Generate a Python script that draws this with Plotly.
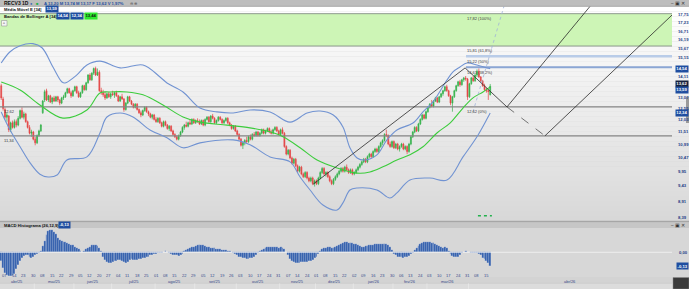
import math
import pandas as pd
import plotly.graph_objects as go

# ---------------- data ----------------
ticker = "RECV3 1D"
quote_text = "A 13,20 M 13,74 M 13,17 F 13,62 V 1,97%"

open_ = [
13.65,13.00,12.50,12.15,12.20,11.60,11.90,11.70,11.95,11.80,
12.10,12.45,12.15,12.30,11.95,11.70,11.45,11.50,11.20,11.05,
11.35,11.55,12.35,12.95,13.40,12.95,13.15,12.85,13.05,12.90,
13.10,12.95,12.80,13.05,13.10,13.30,13.50,13.30,13.15,13.40,
13.60,13.30,13.10,13.30,13.65,13.45,13.80,14.20,13.95,14.30,
14.55,14.20,14.35,13.40,13.30,13.20,13.05,13.25,13.10,13.25,
13.20,13.30,13.15,12.90,13.10,13.00,12.50,12.80,13.10,12.90,
12.75,12.60,12.75,12.50,12.35,12.25,12.45,12.60,12.40,12.30,
12.15,12.25,12.05,11.95,12.10,11.90,11.75,11.95,11.80,11.65,
11.75,11.55,11.40,11.30,11.20,11.35,11.50,11.70,11.80,11.75,
11.90,11.85,12.05,11.90,12.00,11.95,11.85,12.00,11.80,12.05,
12.15,11.95,12.20,12.10,11.90,12.00,12.15,12.05,11.90,12.00,
12.10,11.90,11.80,11.65,11.75,11.55,11.40,11.20,10.95,11.05,
11.15,11.10,11.30,11.20,11.40,11.35,11.50,11.35,11.45,11.60,
11.45,11.55,11.65,11.50,11.45,11.60,11.70,11.55,11.40,11.60,
11.45,10.90,10.60,10.75,10.45,10.25,10.40,10.15,9.95,10.10,
9.85,9.75,9.90,9.70,9.60,9.70,9.50,9.60,9.50,9.70,
9.90,10.05,9.85,9.90,9.75,9.60,9.50,9.65,9.75,9.85,
9.95,10.05,9.95,10.10,10.00,9.90,10.00,9.85,9.90,10.00,
10.10,10.20,10.30,10.40,10.30,10.50,10.60,10.50,10.70,10.80,
10.70,10.90,11.05,11.15,11.40,11.35,11.00,10.90,11.10,10.85,
11.00,10.80,10.90,11.00,10.80,10.90,10.70,11.00,11.30,11.50,
11.70,11.55,11.85,12.05,12.25,12.10,12.40,12.60,12.75,12.65,
12.90,13.05,12.85,13.10,13.25,13.40,13.60,13.40,13.15,12.80,
13.10,13.40,13.65,13.85,13.70,13.95,14.05,14.00,13.10,13.75,
14.05,13.90,14.20,14.40,14.10,13.90,13.65,13.45,13.40,13.20,
]
high = [
13.75,13.10,12.60,12.35,12.25,11.95,12.00,12.05,12.05,12.20,
12.50,12.60,12.40,12.35,12.00,11.80,11.60,11.55,11.30,11.40,
11.60,11.85,12.95,13.45,13.50,13.20,13.20,13.10,13.15,13.15,
13.15,13.00,13.10,13.20,13.35,13.55,13.55,13.40,13.45,13.65,
13.65,13.40,13.35,13.70,13.70,13.85,14.25,14.30,14.35,14.60,
14.65,14.55,14.45,13.55,13.45,13.35,13.30,13.35,13.30,13.40,
13.35,13.40,13.20,13.15,13.25,13.05,12.85,13.15,13.15,12.95,
12.80,12.80,12.80,12.55,12.45,12.50,12.65,12.65,12.45,12.35,
12.30,12.30,12.15,12.15,12.15,11.95,12.00,12.00,11.85,11.80,
11.80,11.60,11.45,11.35,11.40,11.55,11.75,11.85,11.95,11.95,
12.05,12.10,12.10,12.05,12.10,12.05,12.05,12.05,12.10,12.20,
12.20,12.25,12.30,12.15,12.05,12.20,12.20,12.10,12.05,12.15,
12.15,11.95,11.85,11.80,11.80,11.60,11.45,11.25,11.10,11.20,
11.30,11.35,11.40,11.45,11.50,11.55,11.55,11.50,11.65,11.65,
11.60,11.70,11.70,11.60,11.65,11.75,11.75,11.60,11.65,11.70,
11.50,10.95,10.80,10.80,10.50,10.45,10.45,10.20,10.15,10.15,
9.90,9.95,9.95,9.75,9.75,9.75,9.65,9.65,9.75,9.95,
10.10,10.10,9.95,9.95,9.80,9.65,9.70,9.80,9.90,10.00,
10.10,10.10,10.15,10.20,10.05,10.05,10.05,9.95,10.05,10.15,
10.25,10.35,10.45,10.45,10.55,10.65,10.65,10.75,10.85,10.85,
10.95,11.10,11.20,11.45,11.60,11.40,11.10,11.15,11.15,11.05,
11.05,10.95,11.05,11.05,10.95,10.95,11.05,11.35,11.55,11.75,
11.75,11.90,12.10,12.30,12.30,12.45,12.65,12.80,12.95,12.95,
13.10,13.10,13.15,13.30,13.45,13.65,13.70,13.45,13.20,13.15,
13.45,13.70,13.90,13.95,14.00,14.10,14.15,14.05,13.80,14.10,
14.15,14.25,14.50,14.55,14.15,13.95,13.75,13.55,13.45,13.74,
]
low = [
12.95,12.45,12.05,11.95,11.50,11.50,11.65,11.65,11.70,11.75,
12.05,12.10,12.05,11.90,11.65,11.40,11.30,11.15,10.95,11.00,
11.30,11.50,12.30,12.85,12.90,12.85,12.80,12.75,12.85,12.85,
12.85,12.70,12.75,12.95,13.05,13.25,13.25,13.05,13.10,13.35,
13.25,13.05,13.05,13.25,13.40,13.40,13.75,13.90,13.90,14.20,
14.15,14.15,13.35,13.20,13.10,12.95,13.00,13.05,13.00,13.15,
13.05,13.10,12.85,12.85,12.95,12.40,12.45,12.75,12.85,12.70,
12.55,12.55,12.45,12.30,12.15,12.20,12.40,12.35,12.20,12.10,
12.05,12.00,11.90,11.90,11.85,11.70,11.70,11.75,11.60,11.55,
11.50,11.35,11.25,11.15,11.15,11.30,11.45,11.60,11.70,11.70,
11.80,11.80,11.85,11.85,11.90,11.80,11.80,11.75,11.75,12.00,
11.90,11.90,12.05,11.85,11.85,11.95,12.00,11.85,11.85,11.95,
11.85,11.75,11.60,11.60,11.50,11.35,11.15,10.90,10.80,10.95,
11.05,11.05,11.15,11.15,11.30,11.30,11.30,11.30,11.40,11.40,
11.40,11.50,11.45,11.40,11.40,11.55,11.50,11.35,11.35,11.40,
10.85,10.55,10.55,10.40,10.20,10.20,10.10,9.90,9.90,9.80,
9.70,9.70,9.65,9.55,9.55,9.45,9.40,9.45,9.45,9.65,
9.85,9.80,9.75,9.70,9.55,9.45,9.45,9.60,9.70,9.80,
9.90,9.90,9.90,9.95,9.85,9.85,9.80,9.80,9.85,9.95,
10.05,10.15,10.25,10.25,10.25,10.45,10.45,10.45,10.65,10.65,
10.65,10.85,10.95,11.10,11.30,10.95,10.85,10.85,10.80,10.80,
10.75,10.70,10.85,10.75,10.75,10.60,10.65,10.95,11.25,11.45,
11.50,11.50,11.80,12.00,12.05,12.05,12.35,12.55,12.60,12.60,
12.85,12.80,12.80,13.05,13.15,13.35,13.35,13.10,12.70,12.40,
13.05,13.35,13.60,13.60,13.65,13.85,13.90,12.95,13.05,13.70,
13.85,13.85,14.10,14.05,13.85,13.60,13.40,13.30,12.95,13.17,
]
close = [
13.05,12.55,12.15,12.25,11.60,11.90,11.70,11.95,11.80,12.10,
12.45,12.15,12.30,11.95,11.70,11.45,11.50,11.20,11.05,11.35,
11.55,11.80,12.90,13.35,12.95,13.15,12.85,13.05,12.90,13.10,
12.95,12.80,13.05,13.10,13.30,13.50,13.30,13.15,13.40,13.60,
13.30,13.10,13.30,13.65,13.45,13.80,14.20,13.95,14.30,14.55,
14.20,14.35,13.40,13.30,13.20,13.05,13.25,13.10,13.25,13.20,
13.30,13.15,12.90,13.10,13.00,12.50,12.80,13.10,12.90,12.75,
12.60,12.75,12.50,12.35,12.25,12.45,12.60,12.40,12.30,12.15,
12.25,12.05,11.95,12.10,11.90,11.75,11.95,11.80,11.65,11.75,
11.55,11.40,11.30,11.20,11.35,11.50,11.70,11.80,11.75,11.90,
11.85,12.05,11.90,12.00,11.95,11.85,12.00,11.80,12.05,12.15,
11.95,12.20,12.10,11.90,12.00,12.15,12.05,11.90,12.00,12.10,
11.90,11.80,11.65,11.75,11.55,11.40,11.20,10.95,11.05,11.15,
11.10,11.30,11.20,11.40,11.35,11.50,11.35,11.45,11.60,11.45,
11.55,11.65,11.50,11.45,11.60,11.70,11.55,11.40,11.60,11.45,
10.90,10.60,10.75,10.45,10.25,10.40,10.15,9.95,10.10,9.85,
9.75,9.90,9.70,9.60,9.70,9.50,9.60,9.50,9.70,9.90,
10.05,9.85,9.90,9.75,9.60,9.50,9.65,9.75,9.85,9.95,
10.05,9.95,10.10,10.00,9.90,10.00,9.85,9.90,10.00,10.10,
10.20,10.30,10.40,10.30,10.50,10.60,10.50,10.70,10.80,10.70,
10.90,11.05,11.15,11.40,11.35,11.00,10.90,11.10,10.85,11.00,
10.80,10.90,11.00,10.80,10.90,10.70,11.00,11.30,11.50,11.70,
11.55,11.85,12.05,12.25,12.10,12.40,12.60,12.75,12.65,12.90,
13.05,12.85,13.10,13.25,13.40,13.60,13.40,13.15,12.80,13.10,
13.40,13.65,13.85,13.70,13.95,14.05,14.00,13.10,13.75,14.05,
13.90,14.20,14.40,14.10,13.90,13.65,13.45,13.40,13.36,13.62,
]
macd_hist = [
-0.08,-0.15,-0.20,-0.22,-0.225,-0.23,-0.225,-0.21,-0.16,-0.12,
-0.08,-0.05,-0.035,-0.03,-0.03,-0.04,-0.05,-0.045,-0.03,-0.02,
-0.01,0.01,0.06,0.11,0.16,0.20,0.215,0.21,0.19,0.17,
0.14,0.12,0.11,0.10,0.095,0.085,0.08,0.07,0.065,0.055,
0.04,0.03,0.015,0.0,0.015,0.03,0.045,0.055,0.065,0.07,
0.065,0.06,0.045,0.01,-0.04,-0.07,-0.095,-0.105,-0.10,-0.09,
-0.085,-0.08,-0.075,-0.07,-0.08,-0.09,-0.10,-0.09,-0.075,-0.065,
-0.07,-0.075,-0.07,-0.065,-0.06,-0.055,-0.05,-0.045,-0.04,-0.03,
-0.025,-0.02,-0.015,-0.01,-0.01,-0.005,0.005,0.008,0.0,-0.01,
-0.02,-0.025,-0.03,-0.03,-0.035,-0.03,-0.015,0.01,0.025,0.035,
0.045,0.05,0.055,0.06,0.065,0.07,0.07,0.065,0.06,0.055,
0.05,0.045,0.04,0.04,0.035,0.03,0.03,0.025,0.02,0.02,
0.015,0.01,0.005,-0.01,-0.02,-0.03,-0.04,-0.045,-0.05,-0.055,
-0.06,-0.06,-0.055,-0.05,-0.04,-0.025,-0.01,0.01,0.025,0.035,
0.045,0.05,0.055,0.055,0.05,0.05,0.05,0.045,0.05,0.045,
0.03,0.005,-0.03,-0.06,-0.08,-0.095,-0.10,-0.105,-0.10,-0.095,
-0.09,-0.09,-0.09,-0.085,-0.08,-0.07,-0.055,-0.04,-0.02,0.01,
0.03,0.04,0.045,0.05,0.05,0.045,0.045,0.05,0.06,0.07,
0.08,0.09,0.095,0.095,0.09,0.085,0.085,0.08,0.075,0.065,
0.06,0.055,0.055,0.06,0.06,0.065,0.065,0.07,0.075,0.075,
0.08,0.08,0.08,0.075,0.075,0.065,0.05,0.02,-0.015,-0.03,
-0.04,-0.045,-0.045,-0.05,-0.045,-0.045,-0.035,-0.02,-0.005,0.02,
0.04,0.06,0.075,0.085,0.095,0.10,0.10,0.095,0.09,0.085,
0.075,0.065,0.06,0.05,0.045,0.05,0.04,0.015,-0.02,-0.035,
-0.04,-0.04,-0.04,-0.03,-0.01,0.005,0.008,0.005,0.0,-0.005,
-0.01,-0.01,-0.01,-0.02,-0.03,-0.05,-0.065,-0.08,-0.10,-0.13,
]

# indicator curves (bar index, price)
bb_upper_idx = [0,4.7,10,16.8,21.6,27.4,32.2,33.8,40.1,45.4,52.3,63,75.1,84.1,87.8,96.3,105.3,114.3,122.8,131.8,142.4,153,162,168.9,175.9,181,184.7,188.5,192.7,199,204.3,209.6,218.1,223.4,228.7,236.1,239.3,243,246.7,252,257.3,259]
bb_upper = [14.85,15.48,15.83,15.95,15.71,14.63,13.84,13.79,14.21,14.74,14.95,14.58,14.74,14.10,13.79,13.34,12.57,12.39,12.34,12.48,12.39,11.93,12.34,12.43,12.25,11.72,10.85,10.45,10.37,10.57,11.17,11.59,11.89,12.39,12.86,13.94,14.37,14.63,14.85,14.74,14.58,14.54]
bb_lower_idx = [0,4.7,10,15.3,20.5,24.8,29.6,34.8,45.4,52.3,56,63,69.8,78.8,87.8,96.3,105.3,122.8,131.8,142.4,153,158.3,163.6,170.4,177.9,181,184.7,188.5,199,205.9,209.6,216.5,227.1,236.1,244.6,252,257.5,259]
bb_lower = [12.39,11.59,10.89,10.26,9.84,9.74,9.81,10.37,10.49,11.46,12.16,12.34,12.16,11.59,11.26,10.85,11.05,11.17,10.97,10.49,10.30,9.74,9.28,8.78,8.62,8.85,9.28,9.35,9.28,9.01,9.18,9.63,9.70,9.63,10.49,11.30,12.10,12.34]
ema_idx = [0,10,20.5,32.7,45.4,52.3,57.6,66.6,75.1,85.7,96.3,105.3,119.6,131.8,142.4,149.3,158.3,167.3,177.9,188.5,195.3,202.2,209.6,216.5,223.4,230.8,237.7,244.6,249.9,255.2,259]
ema = [13.84,13.44,12.71,12.11,12.48,13.29,13.34,13.34,13.20,12.71,12.16,11.93,11.80,11.68,11.51,11.30,10.85,10.37,10.07,9.88,9.92,10.11,10.37,10.57,10.89,11.46,11.89,12.57,13.05,13.34,13.59]

# drawings
support_levels = [12.62, 11.34]
fib_pct = ["0%", "38,2%", "50%", "61,8%", "100%"]
fib_price = [12.62, 14.61, 15.22, 15.81, 17.82]
trend_up_idx, trend_up_px = [165.2, 245.7], [9.48, 14.58]
trend_dn_idx, trend_dn_px = [245.7, 267.9], [14.58, 12.62]
proj1_idx, proj1_px = [267.9, 315.0], [12.62, 18.80]
proj_dash_idx, proj_dash_px = [267.9, 288.0], [12.62, 11.34]
proj2_idx, proj2_px = [288.0, 355.3], [11.34, 17.73]
fib_trend_idx, fib_trend_px = [249.9, 266.5], [12.39, 18.40]
marker_idx, marker_px = [252.5, 259.9], [8.44, 8.44]

last_vals = {"ema": 13.59, "bb_up": 14.54, "bb_lo": 12.34, "bb_mid": 13.44, "close": 13.62, "macd": -0.13}
right_ticks = [17.75, 17.23, 16.71, 16.19, 15.67, 15.15, 14.11, 13.07, 12.55, 12.03, 11.51, 10.99, 10.47, 9.95, 9.43, 8.91, 8.39]

holidays = ["2025-04-18", "2025-04-21", "2025-05-01", "2025-06-19", "2025-11-20", "2025-12-24",
            "2025-12-25", "2025-12-31", "2026-01-01", "2026-02-16", "2026-02-17", "2026-04-03"]
months_pt = ["jan", "fev", "mar", "abr", "mai", "jun", "jul", "ago", "set", "out", "nov", "dez"]

# ---------------- layout helpers ----------------
W, H = 689, 289
XMIN, XMAX = -0.64, 355.3
PLOT_R = 672 / W


def py(p):
    return 1 - p / H


def fmt(v):
    return f"{v:.2f}".replace(".", ",")


N = len(close)
idx = list(range(N))
all_days = pd.bdate_range("2025-04-03", "2026-07-31")
dates = [d for d in all_days if d.strftime("%Y-%m-%d") not in holidays][:N]

FONT = "Liberation Sans, Arial, sans-serif"
UP, DN = "#33b24a", "#e44343"
BLUE_BOX = "#1f4ea0"

fig = go.Figure()

# green target zone (fib 61.8% - 100%)
fig.add_trace(go.Scatter(x=[XMIN, XMAX, XMAX, XMIN, XMIN],
                         y=[fib_price[3], fib_price[3], fib_price[4], fib_price[4], fib_price[3]],
                         fill="toself", fillcolor="#cdf5b6", line=dict(width=0),
                         mode="lines", hoverinfo="skip"))
for p in (fib_price[3], fib_price[4]):
    fig.add_trace(go.Scatter(x=[XMIN, XMAX], y=[p, p], mode="lines",
                             line=dict(color="#8e9a8e", width=1), hoverinfo="skip"))
fig.add_trace(go.Scatter(x=[246.2, XMAX], y=[fib_price[2]] * 2, mode="lines",
                         line=dict(color="#b9cce8", width=2.5), hoverinfo="skip"))
fig.add_trace(go.Scatter(x=[246.2, XMAX], y=[fib_price[1]] * 2, mode="lines",
                         line=dict(color="#8ba6d4", width=2), hoverinfo="skip"))
for p in support_levels:
    fig.add_trace(go.Scatter(x=[XMIN, XMAX], y=[p, p], mode="lines",
                             line=dict(color="#858585", width=1.3), hoverinfo="skip"))

# bollinger + ema
fig.add_trace(go.Scatter(x=bb_upper_idx, y=bb_upper, mode="lines", line=dict(color="#7193d2", width=1.1, shape="spline"), hoverinfo="skip"))
fig.add_trace(go.Scatter(x=bb_lower_idx, y=bb_lower, mode="lines", line=dict(color="#7193d2", width=1.1, shape="spline"), hoverinfo="skip"))
fig.add_trace(go.Scatter(x=ema_idx, y=ema, mode="lines", line=dict(color="#3ccc3c", width=1.1, shape="spline"), hoverinfo="skip"))

# candles
fig.add_trace(go.Candlestick(x=idx, open=open_, high=high, low=low, close=close,
                             increasing=dict(line=dict(color=UP, width=0.7), fillcolor=UP),
                             decreasing=dict(line=dict(color=DN, width=0.7), fillcolor=DN),
                             whiskerwidth=0, hoverinfo="skip"))

# trend drawings
for xs, ys, col, dash, w in [
    (trend_up_idx, trend_up_px, "#2a2a2a", "solid", 0.8),
    (trend_dn_idx, trend_dn_px, "#2a2a2a", "solid", 0.8),
    (proj1_idx, proj1_px, "#2a2a2a", "solid", 0.8),
    (proj_dash_idx, proj_dash_px, "#555555", "dash", 0.8),
    (proj2_idx, proj2_px, "#2a2a2a", "solid", 0.8),
    (fib_trend_idx, fib_trend_px, "#9fb3d8", "dot", 0.8),
]:
    fig.add_trace(go.Scatter(x=xs, y=ys, mode="lines", line=dict(color=col, width=w, dash=dash), hoverinfo="skip"))
fig.add_trace(go.Scatter(x=marker_idx, y=marker_px, mode="lines",
                         line=dict(color="#22b14c", width=1.5, dash="dot"), hoverinfo="skip"))

# MACD histogram
fig.add_trace(go.Bar(x=idx, y=macd_hist, yaxis="y2", marker=dict(color="#2c5aa9", line=dict(color="rgba(235,240,250,0.7)", width=0.3)), hoverinfo="skip"))
fig.add_trace(go.Scatter(x=[XMIN, XMAX], y=[0, 0], yaxis="y2", mode="lines", line=dict(color="#f4f4f4", width=0.8), hoverinfo="skip"))

shapes = []
# background gradient of price panel
top, bot, n = 6.5, 221.0, 43
for k in range(n):
    y0 = top + (bot - top) * k / n
    y1 = top + (bot - top) * (k + 1) / n
    c = int(round(255 - (255 - 216) * (k + 0.5) / n))
    shapes.append(dict(type="rect", xref="paper", yref="paper", x0=0, x1=1, y0=py(y1), y1=py(y0),
                       fillcolor=f"rgb({c},{c},{c})", line=dict(width=0), layer="below"))
# toolbar
shapes.append(dict(type="rect", xref="paper", yref="paper", x0=0, x1=1, y0=py(6.5), y1=1, fillcolor="#bdbdbd", line=dict(width=0), layer="below"))
shapes.append(dict(type="line", xref="paper", yref="paper", x0=0, x1=1, y0=py(6.3), y1=py(6.3), line=dict(color="#9a9a9a", width=0.6)))
# macd header
shapes.append(dict(type="rect", xref="paper", yref="paper", x0=0, x1=1, y0=py(222.5), y1=py(220.8), fillcolor="#a6a6a6", line=dict(width=0), layer="below"))
shapes.append(dict(type="rect", xref="paper", yref="paper", x0=0, x1=1, y0=py(228), y1=py(222.5), fillcolor="#c6c6c6", line=dict(width=0), layer="below"))
shapes.append(dict(type="rect", xref="paper", yref="paper", x0=0, x1=1, y0=py(277), y1=py(228), fillcolor="#d7d7d7", line=dict(width=0), layer="below"))
# date rows
shapes.append(dict(type="rect", xref="paper", yref="paper", x0=0, x1=1, y0=py(283.3), y1=py(277), fillcolor="#d3d3d3", line=dict(width=0), layer="below"))
shapes.append(dict(type="rect", xref="paper", yref="paper", x0=0, x1=1, y0=0, y1=py(283.3), fillcolor="#dcdcdc", line=dict(width=0), layer="below"))
shapes.append(dict(type="line", xref="paper", yref="paper", x0=0, x1=PLOT_R, y0=py(283.3), y1=py(283.3), line=dict(color="#c4c4c4", width=0.5)))
# scrollbar and corner box
shapes.append(dict(type="rect", xref="paper", yref="paper", x0=686 / W, x1=1, y0=py(123), y1=py(97), fillcolor="#9a9a9a", line=dict(width=0)))
shapes.append(dict(type="rect", xref="paper", yref="paper", x0=673 / W, x1=1, y0=0, y1=py(277.5), fillcolor="#3a3a3a", line=dict(color="#8a8a8a", width=0.5)))
# tiny collapse box
shapes.append(dict(type="rect", xref="paper", yref="paper", x0=1.5 / W, x1=7 / W, y0=py(26), y1=py(20.5), fillcolor="#f4f4f4", line=dict(color="#888", width=0.5)))

ann = []


def text(x, y, s, size=4.5, color="#222", xanchor="left", yanchor="middle", xref="paper", yref="paper", bg=None, bold=False, pad=0.4):
    d = dict(x=x, y=y, xref=xref, yref=yref, text=("<b>%s</b>" % s) if bold else s, showarrow=False,
             xanchor=xanchor, yanchor=yanchor, font=dict(size=size, color=color, family=FONT))
    if bg:
        d.update(bgcolor=bg, borderpad=pad)
    ann.append(d)


# toolbar texts
text(2 / W, py(3.2), ticker, 5, "#111", bold=True)
text(28 / W, py(3.2), "\u25cf", 4, "#2f5fb5")
text(34 / W, py(3.2), "\u25a0", 4, "#22b14c")
text(42 / W, py(3.2), quote_text, 4.2, "#1f4ea0", bold=True)
text(128 / W, py(3.2), "\u2296 \u2295", 4.2, "#555")
text(687 / W, py(3.2), "\u2013 \u25a3 \u2715", 4.5, "#333", xanchor="right")
# legends
text(2 / W, py(9.5), "Média Móvel E [34]", 4.2, "#111", bold=True)
text(45 / W, py(9.5), fmt(last_vals["ema"]), 4.2, "#ffffff", bg=BLUE_BOX, bold=True)
text(2 / W, py(16.5), "Bandas de Bollinger A [34]", 4.2, "#111", bold=True)
text(56 / W, py(16.5), fmt(last_vals["bb_up"]), 4.2, "#ffffff", bg=BLUE_BOX, bold=True)
text(70 / W, py(16.5), fmt(last_vals["bb_lo"]), 4.2, "#ffffff", bg=BLUE_BOX, bold=True)
text(84 / W, py(16.5), fmt(last_vals["bb_mid"]), 4.2, "#111111", bg="#2ee82e", bold=True)
text(4.3 / W, py(23.2), "^", 4, "#333", xanchor="center")

# fib labels
for pct, p in zip(fib_pct, fib_price):
    ann.append(dict(x=245.5, y=math.log10(p), xref="x", yref="y", text=f"{fmt(p)} ({pct})", showarrow=False,
                    xanchor="left", yanchor="top", yshift=-0.3, font=dict(size=4, color="#3a3a3a", family=FONT)))
# support labels at left
for p in support_levels:
    ann.append(dict(x=1.5 / W, y=math.log10(p), xref="paper", yref="y", text=fmt(p), showarrow=False,
                    xanchor="left", yanchor="top", yshift=-0.3, font=dict(size=4, color="#3a3a3a", family=FONT)))

# right axis ticks
for v in right_ticks:
    ann.append(dict(x=675.5 / W, y=math.log10(v), xref="paper", yref="y", text=f"<b>{fmt(v)}</b>", showarrow=False,
                    xanchor="left", yanchor="middle", font=dict(size=4.2, color="#243c86", family=FONT)))
box_shift = {"bb_up": 0, "close": 2.4, "ema": -3.0, "bb_lo": 0}
for key, col in [("bb_up", BLUE_BOX), ("close", "#15203d"), ("ema", BLUE_BOX), ("bb_lo", BLUE_BOX)]:
    v = last_vals[key]
    ann.append(dict(x=688.5 / W, y=math.log10(v), xref="paper", yref="y", text=f"<b>{fmt(v)}</b>", showarrow=False,
                    xanchor="right", yanchor="middle", bgcolor=col, borderpad=0.3, yshift=box_shift[key],
                    font=dict(size=4.2, color="#ffffff", family=FONT)))

# macd texts
text(2 / W, py(225.3), "MACD Histograma (26,12,9)", 4.2, "#111", bold=True)
text(58 / W, py(225.3), fmt(last_vals["macd"]), 4.2, "#ffffff", bg=BLUE_BOX, bold=True)
text(687 / W, py(225.3), "\u2013 \u25a3 \u2715", 4.5, "#333", xanchor="right")
ann.append(dict(x=677 / W, y=0, xref="paper", yref="y2", text="<b>0,00</b>", showarrow=False, xanchor="left",
                font=dict(size=4.2, color="#243c86", family=FONT)))
ann.append(dict(x=688.5 / W, y=last_vals["macd"], xref="paper", yref="y2", text=f"<b>{fmt(last_vals['macd'])}</b>", showarrow=False,
                xanchor="right", bgcolor=BLUE_BOX, borderpad=0.6, font=dict(size=4.2, color="#ffffff", family=FONT)))

# date labels (every 5 bars)
for i in range(2, N, 5):
    ann.append(dict(x=i, y=py(280.3), xref="x", yref="paper", text=dates[i].strftime("%d"), showarrow=False,
                    xanchor="center", font=dict(size=4, color="#34488a", family=FONT)))
# month labels
groups = {}
for i, d in enumerate(dates):
    groups.setdefault((d.year, d.month), []).append(i)
keys = sorted(groups)
for k, key in enumerate(keys):
    i0, i1 = groups[key][0], groups[key][-1]
    right = i1 + 0.5 if k < len(keys) - 1 else XMAX
    ann.append(dict(x=(i0 - 0.5 + right) / 2, y=py(286.3), xref="x", yref="paper",
                    text=f"{months_pt[key[1] - 1]}/{str(key[0])[2:]}", showarrow=False, xanchor="center",
                    font=dict(size=4, color="#34488a", family=FONT)))
    if k < len(keys) - 1:
        shapes.append(dict(type="line", xref="x", yref="paper", x0=right, x1=right, y0=0, y1=py(283.3),
                           line=dict(color="#ececec", width=0.6)))

fig.update_layout(
    width=W, height=H, margin=dict(l=0, r=0, t=0, b=0),
    paper_bgcolor="#d4d4d4", plot_bgcolor="rgba(0,0,0,0)",
    showlegend=False, bargap=0,
    xaxis=dict(domain=[0, PLOT_R], range=[XMIN, XMAX], showgrid=False, zeroline=False,
               showticklabels=False, ticks="", anchor="y2", rangeslider=dict(visible=False), fixedrange=True),
    yaxis=dict(domain=[py(221), py(6.5)], type="log", range=[math.log10(8.275), math.log10(18.30)],
               showgrid=False, zeroline=False, showticklabels=False, ticks="", anchor="x"),
    yaxis2=dict(domain=[py(277), py(228)], range=[-0.235, 0.231], showgrid=False, zeroline=False,
                showticklabels=False, ticks="", anchor="x"),
    shapes=shapes, annotations=ann,
)

fig.write_html("out.html")
